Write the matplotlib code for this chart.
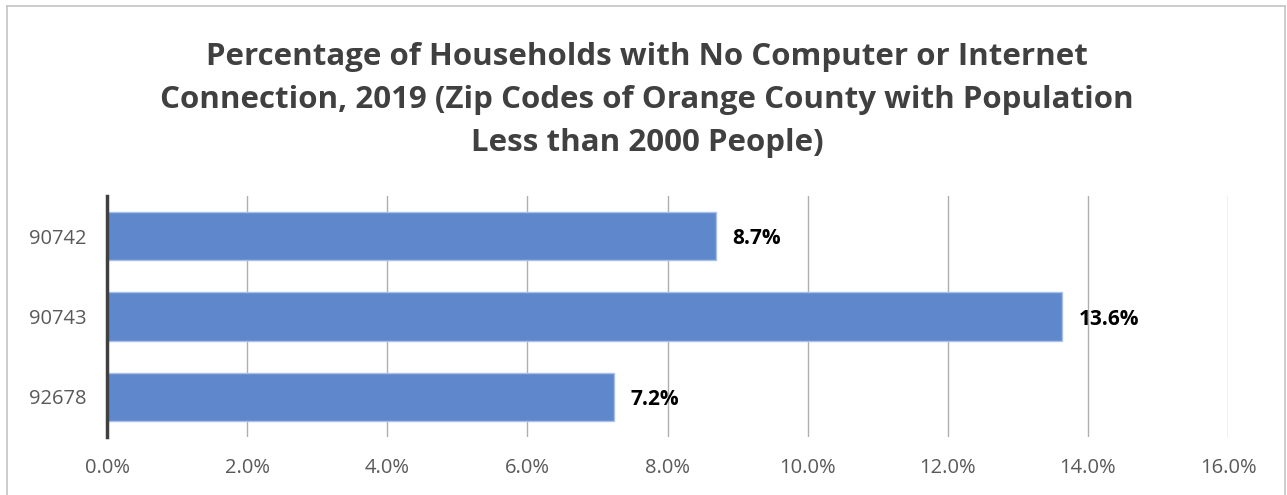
import matplotlib
matplotlib.use("Agg")
import matplotlib.pyplot as plt
from matplotlib.lines import Line2D

categories = ["90742", "90743", "92678"]
values = [8.7, 13.6, 7.2]
plot_values = [8.69, 13.63, 7.24]
xticks = [0, 2, 4, 6, 8, 10, 12, 14, 16]
title = ("Percentage of Households with No Computer or Internet\n"
         "Connection, 2019 (Zip Codes of Orange County with Population\n"
         "Less than 2000 People)")

plt.rcParams['font.family'] = ['Open Sans', 'DejaVu Sans']

fig = plt.figure(figsize=(12.87, 4.95), dpi=100)
ax = fig.add_axes([107/1287, 1-437/495, (1228-107)/1287, (437-196)/495])

ypos = list(range(len(categories)))
ax.barh(ypos, plot_values, height=0.6, color="#5F87CB", edgecolor="#A9C0E8",
        linewidth=1, zorder=3)
ax.set_ylim(2.5, -0.5)
ax.set_xlim(0, 16)
ax.set_xticks(xticks)
ax.set_xticklabels([f"{t:.1f}%" for t in xticks])
ax.set_yticks(ypos)
ax.set_yticklabels(categories)
ax.tick_params(axis='both', length=0, labelsize=14.5, colors="#595959", labelcolor="#595959")
ax.tick_params(axis='x', pad=15)
ax.tick_params(axis='y', pad=15)
ax.grid(axis='x', color="#AFAFAF", linewidth=1, zorder=0)
for s in ["top", "right", "bottom"]:
    ax.spines[s].set_visible(False)
ax.spines["left"].set_color("#404040")
ax.spines["left"].set_linewidth(2.5)
ax.spines["left"].set_zorder(4)

for y, v, pv in zip(ypos, values, plot_values):
    ax.annotate(f"{v:.1f}%", xy=(pv, y), xytext=(12, -2), textcoords="offset points",
                va="center", ha="left", fontsize=15, fontweight="bold", color="black")

fig.text(647/1287, 1-100/495, title, ha="center", va="center", fontsize=22.5,
         fontweight="bold", color="#404040", linespacing=1.57)

# chart border
bc = "#C4C4C4"
fig.add_artist(Line2D([7/1287, 7/1287], [0, 1-6/495], transform=fig.transFigure, color=bc, lw=1.2))
fig.add_artist(Line2D([7/1287, 1285/1287], [1-6/495, 1-6/495], transform=fig.transFigure, color=bc, lw=1.2))
fig.add_artist(Line2D([1285/1287, 1285/1287], [0, 1-6/495], transform=fig.transFigure, color=bc, lw=1.2))

fig.savefig("out.png", dpi=100)
